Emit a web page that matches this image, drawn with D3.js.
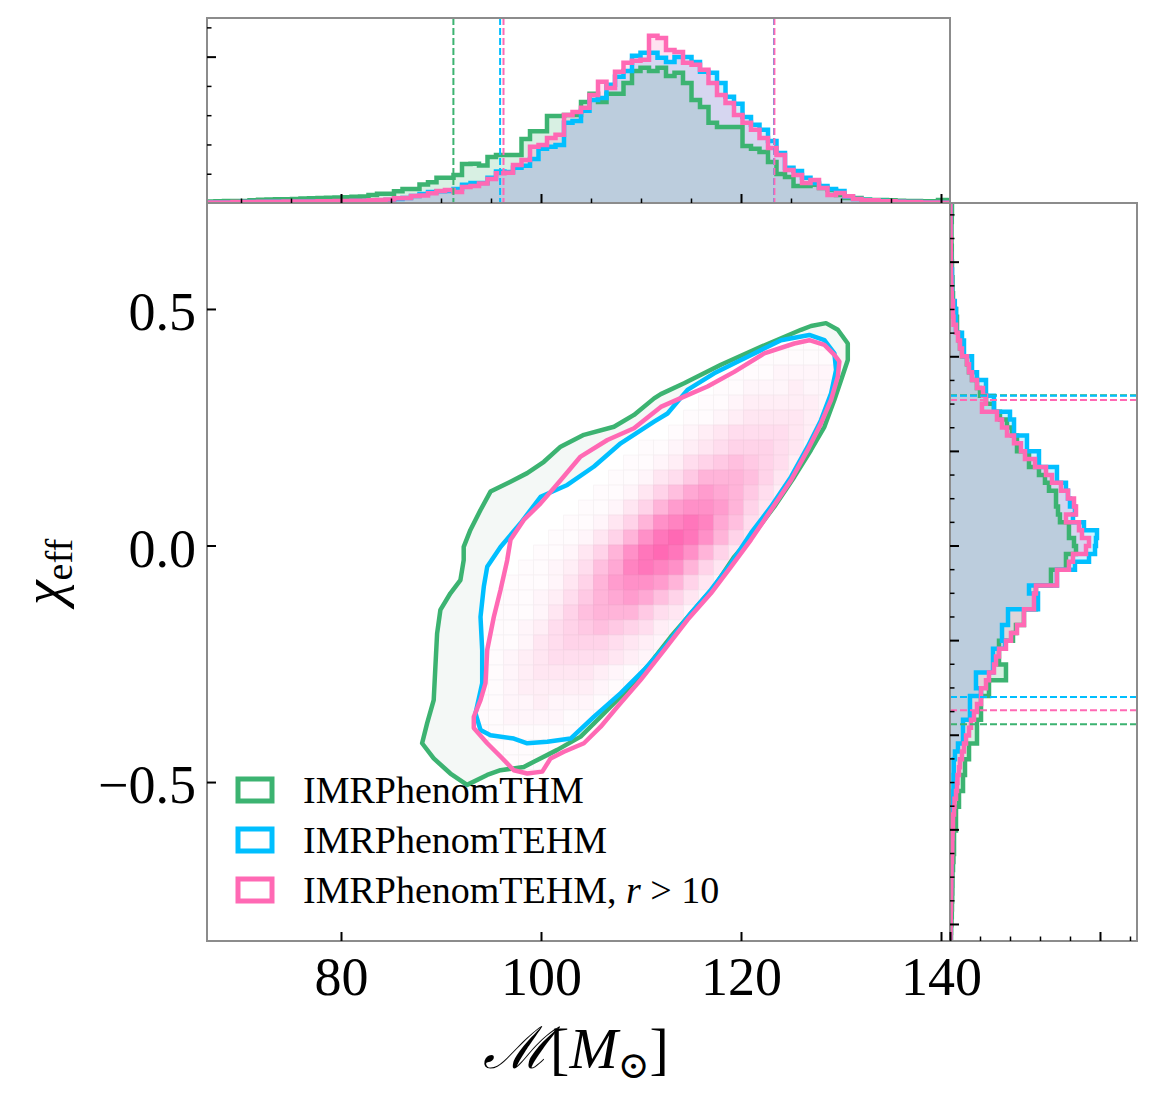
<!DOCTYPE html>
<html lang="en">
<head>
  <meta charset="UTF-8">
  <title>Chirp mass vs effective spin</title>
  <script src="https://d3js.org/d3.v7.min.js"></script>
  <style>
    body { margin: 0; background: #fff; }
    text { font-family: "Liberation Serif", "DejaVu Serif", serif; fill: #000; }
    .spine { fill: none; stroke: #8c8c8c; stroke-width: 2; }
  </style>
</head>
<body>
<svg id="chart" width="1156" height="1097"></svg>
<script>
  // series + colours
  const seriesNames = ["IMRPhenomTHM", "IMRPhenomTEHM", "IMRPhenomTEHM, r > 10"];
  const seriesColors = ["#3cb371", "#00bfff", "#ff69b4"];

  // chirp-mass marginal (density x 1e-3), bins start at 66.6 with width 0.85
  const mcBinStart = 66.6, mcBinWidth = 0.85;
  const mcHistTHM = [0.5,0.6,0.7,0.7,0.7,0.9,1.1,1.2,1.3,1.3, 1.4,1.5,1.6,1.7,1.8,1.9,2.0,2.1,2.2,2.7,
    3.2,3.2,4.0,4.8,4.8,6.3,7.1,8.6,8.6,9.6, 13.3,13.4,12.8,15.7,16.4,16.4,16.4,21.9,24.5,24.5,
    29.7,29.7,30.1,30.1,34.5,37.3,34.5,37.3,37.3,41.0, 45.1,46.2,45.1,46.2,43.4,44.5,41.0,35.2,32.8,27.4,
    26.0,26.0,26.0,19.5,18.5,17.4,14.0,9.9,8.9,5.8, 5.8,6.2,5.1,4.4,2.7,1.7,1.7,1.2,1.0,1.0,
    0.9,0.8,0.7,0.7,0.6,0.6,1.0,0.9];
  const mcHistTEHM = [0.2,0.2,0.2,0.2,0.3,0.3,0.3,0.4,0.4,0.4, 0.4,0.5,0.5,0.5,0.6,0.6,0.6,0.7,0.7,0.8,
    0.9,1.0,1.4,1.7,2.4,3.1,3.8,4.0,4.1,4.8, 6.2,6.8,6.8,8.6,10.8,10.6,12.0,12.7,15.0,18.5,
    19.2,19.8,27.4,28.0,31.5,35.2,35.9,40.4,43.1,45.1, 50.3,51.3,51.3,49.6,48.2,49.9,49.9,48.2,44.8,44.5,
    41.0,36.3,33.9,29.4,26.7,25.0,21.2,17.1,12.0,10.9, 8.6,6.8,5.8,4.8,4.1,2.1,1.4,1.0,0.9,0.7,
    0.5,0.4,0.3,0.3,0.2,0.2,0.1,0.1];
  const mcHistTEHMr10 = [0.2,0.2,0.2,0.3,0.3,0.3,0.4,0.4,0.4,0.5, 0.5,0.5,0.5,0.6,0.6,0.7,0.7,0.8,0.8,0.9,
    1.0,1.2,1.6,1.7,2.4,2.6,3.3,4.1,4.4,3.8, 5.5,5.8,6.7,8.2,10.2,10.3,13.0,14.7,19.2,19.8,
    22.2,23.3,30.1,31.1,32.5,36.9,41.4,39.3,44.8,47.9, 48.6,48.9,57.1,56.4,52.3,51.6,47.9,47.2,45.5,41.0,
    36.9,34.2,30.1,27.4,25.0,22.2,18.8,16.4,11.3,9.6, 6.8,7.9,5.1,2.7,3.4,2.3,1.4,0.9,0.9,0.6,
    0.6,0.4,0.3,0.3,0.2,0.2,0.1,0.1];

  // chi_eff marginal (density), bins start at -0.836 with width 0.0167
  const chiBinStart = -0.836, chiBinWidth = 0.0167;
  const chiHistTHM = [0.017,0.02,0.025,0.03,0.033,0.037,0.04,0.042,0.042,0.05,
    0.058,0.067,0.067,0.067,0.1,0.1,0.1,0.15,0.15,0.217, 0.217,0.25,0.25,0.317,0.317,0.45,0.45,0.45,0.517,0.517,
    0.517,0.65,0.65,0.933,0.933,0.817,0.817,0.817,1.05,1.1, 1.233,1.233,1.433,1.433,1.433,1.683,1.683,1.933,1.933,2.1,
    2.067,1.983,1.983,1.833,1.8,1.767,1.767,1.65,1.583,1.483, 1.317,1.317,1.117,1.117,1.033,0.95,0.833,0.733,0.6,0.5,
    0.45,0.367,0.317,0.283,0.2,0.167,0.15,0.117,0.117,0.1, 0.05,0.05,0.042,0.042,0.033,0.033,0.03,0.03,0.025,0.025,
    0.025,0.03,0.033];
  const chiHistTEHM = [0.007,0.008,0.008,0.01,0.012,0.013,0.015,0.017,0.018,0.02,
    0.023,0.027,0.03,0.033,0.037,0.042,0.047,0.05,0.055,0.058, 0.058,0.062,0.062,0.083,0.133,0.217,0.217,0.217,0.333,0.333,
    0.333,0.517,0.433,0.433,0.717,0.717,0.717,0.917,0.867,0.867, 0.967,0.967,1.467,1.467,1.317,1.783,1.783,2.083,2.317,2.417,
    2.433,2.45,2.233,2.05,2.083,2.0,1.967,1.933,1.783,1.783, 1.483,1.483,1.283,1.283,1.067,1.067,1.0,0.733,0.733,0.6,
    0.6,0.45,0.367,0.367,0.233,0.233,0.2,0.1,0.1,0.1, 0.08,0.033,0.033,0.033,0.033,0.017,0.015,0.013,0.012,0.01,
    0.01,0.008,0.007];
  const chiHistTEHMr10 = [0.008,0.01,0.012,0.013,0.017,0.018,0.02,0.022,0.025,0.025,
    0.033,0.037,0.038,0.042,0.05,0.05,0.067,0.075,0.1,0.117, 0.125,0.15,0.167,0.2,0.233,0.267,0.317,0.35,0.4,0.45,
    0.517,0.517,0.6,0.65,0.733,0.767,0.817,0.933,1.017,1.117, 1.233,1.233,1.4,1.4,1.433,1.783,1.783,1.983,2.05,2.267,
    2.317,2.2,2.15,1.933,2.1,2.067,1.967,1.85,1.7,1.6, 1.417,1.25,1.183,1.067,0.95,0.867,0.783,0.533,0.6,0.55,
    0.45,0.367,0.317,0.283,0.2,0.167,0.133,0.1,0.058,0.05, 0.05,0.03,0.025,0.022,0.018,0.017,0.015,0.013,0.012,0.01,
    0.01,0.008,0.008];

  // 90% intervals
  const mcIntervals = [[91.24, 123.3], [95.91, 123.3], [96.25, 123.34]];
  const chiIntervals = [[-0.378, 0.3175], [-0.32, 0.3165], [-0.348, 0.3076]];

  // 90% contours, [chirp mass, chi_eff]
  const contourTHM = [[128.5,0.470],[129.68,0.456],[130.68,0.427],[130.68,0.392],[130.01,0.350],[129.34,0.308],
    [128.34,0.251],[127.0,0.202],[125.33,0.145],[123.33,0.082],[121.32,0.026],[119.32,-0.024],[117.32,-0.087],
    [115.31,-0.136],[112.98,-0.193],[110.65,-0.256],[108.30,-0.312],[105.97,-0.362],[103.96,-0.404],[101.63,-0.432],
    [99.29,-0.457],[98.28,-0.468],[95.95,-0.475],[94.62,-0.485],[92.61,-0.506],[90.94,-0.482],[89.27,-0.450],
    [88.11,-0.418],[88.61,-0.376],[89.27,-0.327],[89.44,-0.256],[89.61,-0.186],[89.94,-0.136],[90.94,-0.101],
    [91.94,-0.073],[92.27,-0.031],[92.27,-0.003],[92.94,0.033],[93.95,0.075],[94.95,0.114],[96.95,0.135],
    [98.62,0.153],[100.29,0.177],[101.96,0.209],[104.29,0.234],[107.30,0.251],[109.30,0.276],[111.31,0.311],
    [111.98,0.320],[114.31,0.343],[117.99,0.382],[121.99,0.420],[126.0,0.456],[127.0,0.464]];
  const contourTEHM = [[126.83,0.445],[128.34,0.434],[129.34,0.406],[129.51,0.371],[129.01,0.322],[128.0,0.265],
    [126.67,0.209],[125.0,0.145],[123.0,0.082],[120.99,0.026],[118.99,-0.038],[116.99,-0.094],[114.98,-0.143],
    [112.65,-0.207],[110.30,-0.263],[107.97,-0.312],[105.30,-0.362],[102.96,-0.408],[100.63,-0.415],[98.62,-0.418],
    [97.28,-0.408],[94.95,-0.401],[93.95,-0.390],[93.45,-0.355],[94.12,-0.291],[94.12,-0.221],[93.95,-0.151],
    [94.28,-0.087],[94.62,-0.045],[95.95,-0.003],[97.95,0.047],[99.96,0.103],[102.63,0.128],[105.30,0.167],
    [107.97,0.216],[111.31,0.262],[112.65,0.279],[114.65,0.329],[117.32,0.364],[120.66,0.399],[124.0,0.434]];
  const contourTEHMr10 = [[126.83,0.434],[128.34,0.424],[129.34,0.403],[129.84,0.389],[129.68,0.357],[129.01,0.308],
    [128.0,0.258],[126.67,0.202],[125.0,0.138],[123.0,0.075],[120.99,0.012],[118.99,-0.045],[116.99,-0.101],
    [114.65,-0.157],[112.31,-0.221],[109.97,-0.284],[107.64,-0.341],[105.97,-0.383],[104.29,-0.418],[102.29,-0.436],
    [100.96,-0.450],[100.13,-0.478],[98.62,-0.482],[97.28,-0.475],[95.95,-0.446],[94.62,-0.418],[93.28,-0.386],
    [93.28,-0.362],[93.95,-0.327],[94.45,-0.291],[94.62,-0.221],[95.28,-0.151],[95.95,-0.094],[96.62,-0.031],
    [96.95,0.012],[98.28,0.054],[99.96,0.089],[101.96,0.138],[103.96,0.188],[106.64,0.223],[109.3,0.248],
    [111.98,0.293],[114.65,0.318],[116.65,0.336],[119.32,0.367],[122.32,0.406],[125.33,0.427]];

  // 2D density of the r > 10 run, levels 0-f, rows from the top (chi_eff = 0.4448 downwards)
  const densMcStart = 93.27, densMcWidth = 1.5;
  const densChiTop = 0.4448, densChiHeight = 0.0317;
  const densRows = [
    "0000000000000000000011111",
    "0000000000000000000111111",
    "0000000000000000011122221",
    "0000000000000000112223221",
    "0000000000000001123333321",
    "0000000000000011234444321",
    "0000000000000123455554321",
    "0000000000011234566654211",
    "0000000000112356787653210",
    "0000000001124579998642110",
    "00000000112468aba97532100",
    "0000000112469bccb96421100",
    "000000112469cdeda85321000",
    "00000112469cefec964210000",
    "0000112469cefec9642100000",
    "000112358adedc96421000000",
    "001112469bccb964211000000",
    "011123579aba8642110000000",
    "0111246899975421100000000",
    "0112356787653211000000000",
    "1112456665432110000000000",
    "1123455554321100000000000",
    "1123444432110000000000000",
    "1123333321100000000000000",
    "1122322211000000000000000",
    "1122221110000000000000000",
    "1111111000000000000000000",
    "1111110000000000000000000",
    "1111100000000000000000000",
    "1111100000000000000000000"
  ];

  const mcTicks = [80, 100, 120, 140];
  const chiTicks = [-0.5, 0, 0.5];

  const svg = d3.select("#chart");

  const x = d3.scaleLinear().domain([66.6, 140.9]).range([207, 950]);
  const y = d3.scaleLinear().domain([-0.836, 0.724]).range([941, 203]);
  const yTop = d3.scaleLinear().domain([0, 0.0632]).range([203, 18]);
  const xRight = d3.scaleLinear().domain([0, 3.117]).range([950, 1137]);

  const mcHists = [mcHistTHM, mcHistTEHM, mcHistTEHMr10];
  const chiHists = [chiHistTHM, chiHistTEHM, chiHistTEHMr10];
  const contours = [contourTHM, contourTEHM, contourTEHMr10];

  const defs = svg.append("defs");
  const clipRect = (id, x0, y0, w, h) => defs.append("clipPath").attr("id", id)
    .append("rect").attr("x", x0).attr("y", y0).attr("width", w).attr("height", h);
  clipRect("clip-main", 207, 203, 743, 738);
  clipRect("clip-top", 207, 18, 743, 185);
  clipRect("clip-right", 950, 203, 187, 738);

  const contourLine = d3.line().x(d => x(d[0])).y(d => y(d[1])).curve(d3.curveLinearClosed);
  defs.append("clipPath").attr("id", "clip-pink")
    .append("path").attr("d", contourLine(contourTEHMr10));

  // step outline: [binEdge, value] pairs
  const stepPoints = (vals, start, width) => {
    const pts = [[start, 0]];
    vals.forEach((v, i) => {
      pts.push([start + i * width, v]);
      pts.push([start + (i + 1) * width, v]);
    });
    pts.push([start + vals.length * width, 0]);
    return pts;
  };

  // ---- main panel ----
  const mainG = svg.append("g").attr("clip-path", "url(#clip-main)");

  mainG.append("path").attr("d", contourLine(contourTHM)).attr("fill", "#f4f8f6");
  mainG.append("path").attr("d", contourLine(contourTEHM)).attr("fill", "#ffffff");

  const cells = [];
  densRows.forEach((row, r) => {
    row.split("").forEach((ch, c) => {
      const v = parseInt(ch, 16);
      if (v > 0) cells.push({ r, c, v });
    });
  });
  // white -> hotpink, a bit steeper so the tails stay faint
  const pinkScale = t => d3.interpolateRgb("#ffffff", seriesColors[2])(Math.pow(t, 1.35));
  mainG.append("g").attr("clip-path", "url(#clip-pink)")
    .selectAll("rect")
    .data(cells)
    .enter()
    .append("rect")
    .attr("x", d => x(densMcStart + d.c * densMcWidth))
    .attr("y", d => y(densChiTop - d.r * densChiHeight))
    .attr("width", d => x(densMcStart + (d.c + 1) * densMcWidth) - x(densMcStart + d.c * densMcWidth))
    .attr("height", d => y(densChiTop - (d.r + 1) * densChiHeight) - y(densChiTop - d.r * densChiHeight))
    .attr("fill", d => pinkScale(d.v / 15))
    .attr("stroke", d => d3.rgb(pinkScale(d.v / 15)).darker(0.12))
    .attr("stroke-width", 0.7);

  contours.forEach((c, i) => {
    mainG.append("path").attr("d", contourLine(c))
      .attr("fill", "none")
      .attr("stroke", seriesColors[i])
      .attr("stroke-width", 4.5)
      .attr("stroke-linejoin", "round");
  });

  // ---- top marginal ----
  const topG = svg.append("g").attr("clip-path", "url(#clip-top)");
  const topLine = d3.line().x(d => x(d[0])).y(d => yTop(d[1] * 1e-3));
  mcHists.forEach((h, i) => {
    topG.append("path").attr("d", topLine(stepPoints(h, mcBinStart, mcBinWidth)) + "Z")
      .attr("fill", seriesColors[i]).attr("fill-opacity", 0.2).attr("stroke", "none");
  });
  mcHists.forEach((h, i) => {
    topG.append("path").attr("d", topLine(stepPoints(h, mcBinStart, mcBinWidth)))
      .attr("fill", "none").attr("stroke", seriesColors[i]).attr("stroke-width", 4.5)
      .attr("stroke-linejoin", "miter");
  });
  mcIntervals.forEach((iv, i) => {
    iv.forEach(v => {
      topG.append("line")
        .attr("x1", x(v)).attr("x2", x(v)).attr("y1", yTop.range()[1]).attr("y2", yTop.range()[0])
        .attr("stroke", seriesColors[i]).attr("stroke-width", 2).attr("stroke-dasharray", "7,3");
    });
  });

  // ---- right marginal ----
  const rightG = svg.append("g").attr("clip-path", "url(#clip-right)");
  const rightLine = d3.line().x(d => xRight(d[1])).y(d => y(d[0]));
  chiHists.forEach((h, i) => {
    rightG.append("path").attr("d", rightLine(stepPoints(h, chiBinStart, chiBinWidth)) + "Z")
      .attr("fill", seriesColors[i]).attr("fill-opacity", 0.2).attr("stroke", "none");
  });
  chiHists.forEach((h, i) => {
    rightG.append("path").attr("d", rightLine(stepPoints(h, chiBinStart, chiBinWidth)))
      .attr("fill", "none").attr("stroke", seriesColors[i]).attr("stroke-width", 4.5)
      .attr("stroke-linejoin", "miter");
  });
  chiIntervals.forEach((iv, i) => {
    iv.forEach(v => {
      rightG.append("line")
        .attr("x1", xRight.range()[0]).attr("x2", xRight.range()[1]).attr("y1", y(v)).attr("y2", y(v))
        .attr("stroke", seriesColors[i]).attr("stroke-width", 2).attr("stroke-dasharray", "7,3");
    });
  });

  // ---- spines ----
  svg.append("rect").attr("class", "spine").attr("x", 207).attr("y", 203).attr("width", 743).attr("height", 738);
  svg.append("rect").attr("class", "spine").attr("x", 207).attr("y", 18).attr("width", 743).attr("height", 185);
  svg.append("rect").attr("class", "spine").attr("x", 950).attr("y", 203).attr("width", 187).attr("height", 738);

  // ---- ticks ----
  const addAxis = (axisFn, scale, values, size, width, tr, fmt, pad) => {
    const g = svg.append("g").attr("transform", tr)
      .call(axisFn(scale).tickValues(values).tickSizeInner(-size).tickSizeOuter(0)
        .tickPadding(pad || 3).tickFormat(fmt || ""));
    g.select(".domain").remove();
    g.attr("font-family", null).attr("font-size", 54);
    g.selectAll(".tick line").attr("stroke", "#000").attr("stroke-width", width);
    return g;
  };

  const near = (v, arr) => arr.some(a => Math.abs(a - v) < 1e-9);

  // main
  addAxis(d3.axisBottom, x, mcTicks, 9, 2, "translate(0,941)", d3.format("d"), 16);
  const yAx = addAxis(d3.axisLeft, y, chiTicks, 9, 2, "translate(207,0)", d3.format(".1f"), 11);
  yAx.selectAll("text").attr("dy", "0.38em");

  // top marginal
  const mcMinor = d3.range(70, 141, 5).filter(v => !near(v, mcTicks));
  addAxis(d3.axisBottom, x, mcTicks, 9, 2, "translate(0,203)");
  addAxis(d3.axisBottom, x, mcMinor, 4.5, 1.5, "translate(0,203)");
  addAxis(d3.axisLeft, yTop, [0.05], 9, 2, "translate(207,0)");
  addAxis(d3.axisLeft, yTop, [0.01, 0.02, 0.03, 0.04, 0.06], 4.5, 1.5, "translate(207,0)");

  // right marginal
  const chiMajor = d3.range(-0.8, 0.61, 0.2).map(v => +v.toFixed(2));
  const chiMinor = d3.range(-0.8, 0.71, 0.05).map(v => +v.toFixed(2)).filter(v => !near(v, chiMajor));
  addAxis(d3.axisLeft, y, chiMajor, 9, 2, "translate(950,0)");
  addAxis(d3.axisLeft, y, chiMinor, 4.5, 1.5, "translate(950,0)");
  addAxis(d3.axisBottom, xRight, [0, 2.5], 9, 2, "translate(0,941)");
  addAxis(d3.axisBottom, xRight, [0.5, 1, 1.5, 2, 3], 4.5, 1.5, "translate(0,941)");

  // ---- axis labels ----
  const xLab = svg.append("text").attr("x", 576).attr("y", 1068).attr("text-anchor", "middle")
    .attr("font-size", 58);
  xLab.append("tspan").attr("font-style", "italic").text("ℳ");
  xLab.append("tspan").text("[");
  xLab.append("tspan").attr("font-style", "italic").text("M");
  xLab.append("tspan").attr("font-size", 38).attr("dy", 10).text("⊙");
  xLab.append("tspan").attr("dy", -10).text("]");

  const yLab = svg.append("text").attr("transform", "translate(62,572) rotate(-90)")
    .attr("text-anchor", "middle").attr("font-size", 56);
  yLab.append("tspan").attr("font-style", "italic").text("χ");
  yLab.append("tspan").attr("font-size", 38).attr("dy", 10).text("eff");

  // ---- legend ----
  const legendRows = [790, 840, 890];
  seriesNames.forEach((name, i) => {
    svg.append("rect")
      .attr("x", 238).attr("y", legendRows[i] - 11).attr("width", 34).attr("height", 22)
      .attr("fill", "none").attr("stroke", seriesColors[i]).attr("stroke-width", 5);
    const t = svg.append("text").attr("x", 303).attr("y", legendRows[i] + 13).attr("font-size", 38);
    if (name.includes("r > 10")) {
      t.append("tspan").text("IMRPhenomTEHM, ");
      t.append("tspan").attr("font-style", "italic").text("r");
      t.append("tspan").text(" > 10");
    } else {
      t.text(name);
    }
  });
</script>
</body>
</html>
